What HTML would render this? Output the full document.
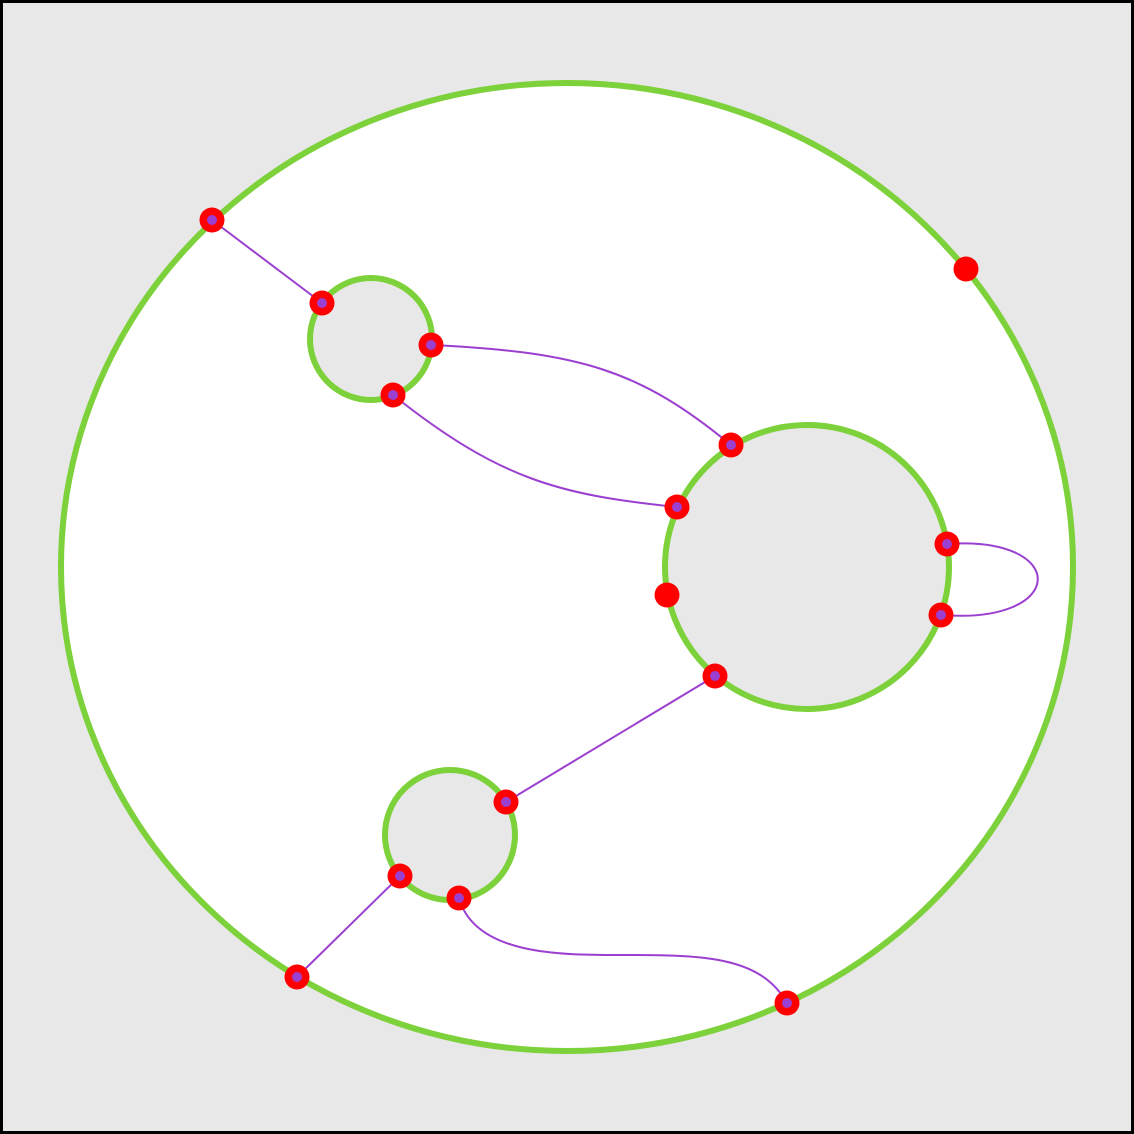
<!DOCTYPE html>
<html><head><meta charset="utf-8"><style>
html,body{margin:0;padding:0;background:#e8e8e8;}
svg{display:block;}
</style></head><body>
<svg id="chart" width="1134" height="1134" viewBox="0 0 1134 1134" xmlns="http://www.w3.org/2000/svg">
<rect x="1.5" y="1.5" width="1131" height="1131" fill="#e8e8e8" stroke="#000" stroke-width="3"/>
<g id="rings"></g><g id="edges"></g><g id="nodes"></g>
</svg>
<script>
const ringCx=[567,371,807,450];
const ringCy=[567,339,567,835];
const ringRx=[506,61,142,65];
const ringRy=[484,61,142,65];
const ringFill=['#fff','#e8e8e8','#e8e8e8','#e8e8e8'];
const nodeX=[212,322,431,393,731,677,947,941,715,506,400,459,297,787,966,667];
const nodeY=[220,303,345,395,445,507,544,615,676,802,876,898,977,1003,269,595];
const nodeInner=[1,1,1,1,1,1,1,1,1,1,1,1,1,1,0,0];
const edges=[
 'M212,220 L322,303',
 'M431,345 C580,352 640,370 731,445',
 'M393,395 C500,480 560,495 677,507',
 'M947,544 C1069,535 1069,625 941,615',
 'M715,676 L506,802',
 'M400,876 L297,977',
 'M459,898 C475,955 560,955 620,955 C700,955 760,955 787,1003'
];
const NS='http://www.w3.org/2000/svg';
const rg=document.getElementById('rings'),eg=document.getElementById('edges'),ng=document.getElementById('nodes');
ringCx.forEach((cx,i)=>{
 const e=document.createElementNS(NS,'ellipse');
 
 
 e.setAttribute('cx',cx);e.setAttribute('cy',ringCy[i]);
 e.setAttribute('rx',ringRx[i]);e.setAttribute('ry',ringRy[i]);
 e.setAttribute('fill',ringFill[i]);e.setAttribute('stroke','#7dd13a');e.setAttribute('stroke-width','6');
 rg.appendChild(e);
});
edges.forEach((d,i)=>{
 const p=document.createElementNS(NS,'path');
 
 
 p.setAttribute('d',d);p.setAttribute('fill','none');p.setAttribute('stroke','#9b3fd0');p.setAttribute('stroke-width','2');
 eg.appendChild(p);
});
nodeX.forEach((x,i)=>{
 const c=document.createElementNS(NS,'circle');
 
 
 c.setAttribute('cx',x);c.setAttribute('cy',nodeY[i]);c.setAttribute('r','12.5');c.setAttribute('fill','#ff0000');
 ng.appendChild(c);
 if(nodeInner[i]){
  const d=document.createElementNS(NS,'circle');
  
  
  d.setAttribute('cx',x);d.setAttribute('cy',nodeY[i]);d.setAttribute('r','5');d.setAttribute('fill','#9b3fd0');
  ng.appendChild(d);
 }
});
</script>
</body></html>
